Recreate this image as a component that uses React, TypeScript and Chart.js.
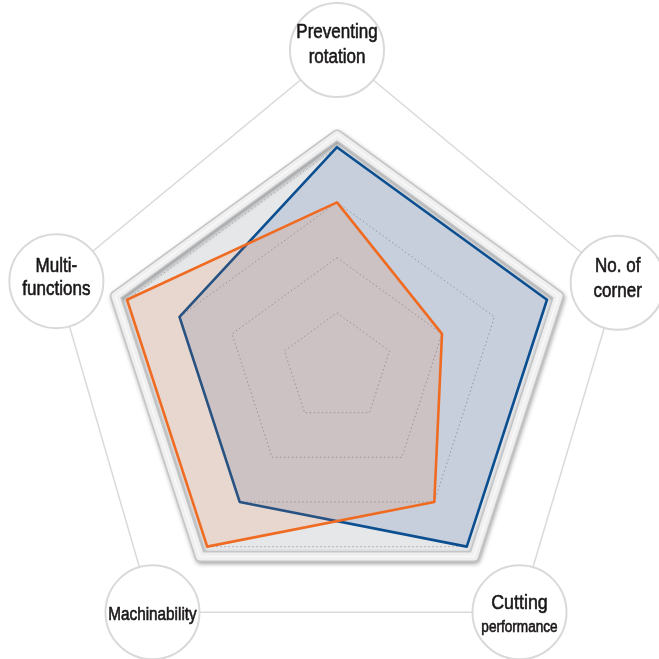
import { useEffect, useRef } from "react";
import { Chart, registerables } from "chart.js";

Chart.register(...registerables);

// ---- data ----
const categories = ["Preventing rotation", "No. of corner", "Cutting performance", "Machinability", "Multi-functions"];
const labelLines = [["Preventing", "rotation"], ["No. of", "corner"], ["Cutting", "performance"], ["Machinability"], ["Multi-", "functions"]];
const seriesOrange = [3, 2, 3, 4, 4];
const seriesBlue = [4, 4, 4, 3, 3];
const gridTicks = [1, 2, 3, 4];
const scaleMax = 5;

// ---- styles ----
const frameValue = 4.22;
const labelStyle = [
  { dist: 318, dx: 0, dy: 0, sizes: [20, 20], offs: [-12, 13] },
  { dist: 292, dx: 3, dy: 5, sizes: [20, 20], offs: [-11, 14] },
  { dist: 302, dx: 5, dy: 0, sizes: [21, 16], offs: [-3, 20] },
  { dist: 302, dx: -7, dy: 0, sizes: [18], offs: [8] },
  { dist: 294, dx: -1, dy: 4, sizes: [20, 20], offs: [-9, 14] },
];

const decorPlugin = {
  id: "decor",
  beforeDraw(chart: any) {
    const ctx: CanvasRenderingContext2D = chart.ctx;
    const r = chart.scales.r;
    const centers = categories.map((_, i) => {
      const p = r.getPointPosition(i, labelStyle[i].dist);
      return { x: p.x + labelStyle[i].dx, y: p.y + labelStyle[i].dy };
    });
    ctx.save();
    ctx.fillStyle = "#ffffff";
    ctx.fillRect(0, 0, chart.width, chart.height);
    ctx.strokeStyle = "#dadada";
    ctx.lineWidth = 1.5;
    ctx.beginPath();
    centers.forEach((c, i) => (i === 0 ? ctx.moveTo(c.x, c.y) : ctx.lineTo(c.x, c.y)));
    ctx.closePath();
    ctx.stroke();
    centers.forEach((c, i) => {
      ctx.beginPath();
      ctx.arc(c.x, c.y, 47, 0, Math.PI * 2);
      ctx.fillStyle = "#ffffff";
      ctx.fill();
      ctx.lineWidth = 2;
      ctx.strokeStyle = "#d9d9d9";
      ctx.stroke();
      const st = labelStyle[i];
      labelLines[i].forEach((t, k) => {
        ctx.save();
        ctx.translate(c.x, c.y + st.offs[k]);
        ctx.scale(0.85, 1);
        ctx.font = `${st.sizes[k]}px "Liberation Sans", Arial, sans-serif`;
        ctx.fillStyle = "#1a1718";
        ctx.strokeStyle = "#1a1718";
        ctx.lineWidth = 0.6;
        ctx.textAlign = "center";
        ctx.textBaseline = "alphabetic";
        ctx.fillText(t, 0, 0);
        ctx.strokeText(t, 0, 0);
        ctx.restore();
      });
    });
    const pts = categories.map((_, i) => r.getPointPositionForValue(i, frameValue));
    const path = () => {
      ctx.beginPath();
      pts.forEach((p: any, i: number) => (i === 0 ? ctx.moveTo(p.x, p.y) : ctx.lineTo(p.x, p.y)));
      ctx.closePath();
    };
    ctx.lineJoin = "round";
    ctx.save();
    ctx.shadowColor = "rgba(0,0,0,0.35)";
    ctx.shadowBlur = 4;
    ctx.shadowOffsetX = 1;
    ctx.shadowOffsetY = 2;
    path();
    ctx.fillStyle = "#e6e7e9";
    ctx.fill();
    ctx.lineWidth = 11;
    ctx.strokeStyle = "#c4c5c7";
    ctx.stroke();
    ctx.restore();
    path();
    ctx.lineWidth = 8;
    ctx.strokeStyle = "#efeff0";
    ctx.stroke();
    path();
    ctx.lineWidth = 2;
    ctx.strokeStyle = "#f7f7f7";
    ctx.stroke();
    ctx.restore();
  },
};

export default function App() {
  const ref = useRef<HTMLCanvasElement>(null);
  useEffect(() => {
    if (!ref.current) return;
    const chart = new Chart(ref.current, {
      type: "radar",
      data: {
        labels: categories,
        datasets: [
          {
            label: "Orange",
            data: seriesOrange,
            borderColor: "#f06b22",
            backgroundColor: "rgba(240,110,40,0.13)",
            borderWidth: 2.6,
            borderJoinStyle: "round",
            pointRadius: 0,
            fill: true,
          },
          {
            label: "Blue",
            data: seriesBlue,
            borderColor: "#0b4f90",
            backgroundColor: "rgba(30,80,150,0.155)",
            borderWidth: 2.6,
            borderJoinStyle: "round",
            pointRadius: 0,
            fill: true,
          },
        ],
      },
      options: {
        responsive: false,
        animation: false,
        layout: { padding: { left: 61, right: 46, top: 92, bottom: 15 } },
        plugins: { legend: { display: false }, tooltip: { enabled: false } },
        scales: {
          r: {
            min: 0,
            max: scaleMax,
            ticks: { display: false, stepSize: 1 },
            pointLabels: { display: false },
            angleLines: { display: false },
            grid: {
              color: (c: any) => (c.tick && gridTicks.includes(c.tick.value) ? "#a6a6a8" : "rgba(0,0,0,0)"),
              lineWidth: 1,
            },
            border: { dash: [1.5, 2.5] },
          },
        },
      },
      plugins: [decorPlugin],
    } as any);
    return () => chart.destroy();
  }, []);
  return (
    <div style={{ position: "absolute", left: 0, top: 0, width: 659, height: 659 }}>
      <canvas ref={ref} width={659} height={659} style={{ width: 659, height: 659 }} />
    </div>
  );
}
